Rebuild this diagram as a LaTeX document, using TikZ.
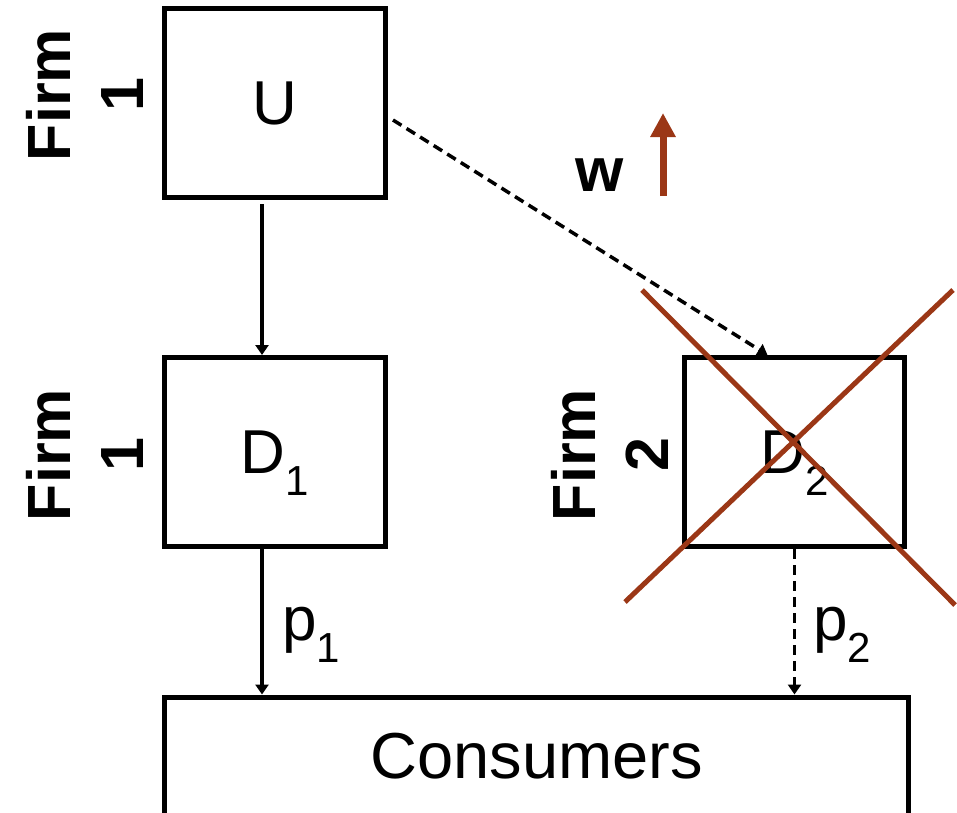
\documentclass[tikz,border=0pt]{standalone}
\usepackage{fontspec}
\setmainfont{Liberation Sans}
\usetikzlibrary{arrows.meta}
\definecolor{rust}{RGB}{155,55,22}
\newcommand\lowsub[1]{\raisebox{-22pt}[0pt][0pt]{\fontsize{42}{42}\selectfont #1}}
\begin{document}
\begin{tikzpicture}[x=1pt,y=-1pt,
  box/.style={draw,line width=5pt,minimum width=221pt,minimum height=189pt,inner sep=0pt,
    font=\fontsize{62}{62}\selectfont},
  firm/.style={rotate=90,align=center,inner sep=0pt,font=\bfseries\fontsize{61}{73}\selectfont},
  lbl/.style={inner sep=0pt,font=\fontsize{62}{62}\selectfont},
  conn/.style={line width=4.5pt,-{Triangle[length=10pt,width=13pt]}},
  dashes/.style={line width=3.5pt,dash pattern=on 10pt off 6pt},
  xline/.style={rust,line width=5pt}]
\useasboundingbox (0,0) rectangle (957,812);
% boxes
\node[box] (U) at (275,103) {U};
\node[box] (D1) at (275,452) {D\lowsub{1}};
\node[box,minimum width=220pt] (D2) at (794.5,452) {D\lowsub{2}};
\node[box,minimum width=744pt,minimum height=130pt,text depth=13pt,
  font=\fontsize{65}{65}\selectfont] (C) at (536.5,762) {Consumers};
% side labels
\node[firm] (f1) at (85,95) {Firm\\1};
\node[firm] (f2) at (85,455) {Firm\\1};
\node[firm] (f3) at (610,455) {Firm\\2};
% other labels
\node[lbl,font=\bfseries\fontsize{62}{62}\selectfont] (w) at (600,175) {w};
\node[lbl] (p1) at (311,630) {p\lowsub{1}};
\node[lbl] (p2) at (842,630) {p\lowsub{2}};
% connectors
\draw[conn] ([xshift=-13pt,yshift=-4pt]U.south) -- ([xshift=-13pt]D1.north);
\draw[conn] ([xshift=-13pt]D1.south) -- ([xshift=-13pt]D1.south |- C.north);
\draw[conn,dashes] (D2.south) -- (D2.south |- C.north);
\draw[conn,dashes] ([xshift=5pt,yshift=-17pt]U.east) -- ([xshift=-27pt]D2.north);
% rising w arrow
\coordinate (wb) at (663,196);
\coordinate (wt) at (663,113);
\draw[rust,line width=7pt,-{Triangle[length=24pt,width=24pt]}] (wb) -- (wt);
% cross
\coordinate (xa) at (642,290);
\coordinate (xb) at (955,605);
\coordinate (xc) at (953,290);
\coordinate (xd) at (625,602);
\draw[xline] (xa) -- (xb);
\draw[xline] (xc) -- (xd);
\end{tikzpicture}
\end{document}
